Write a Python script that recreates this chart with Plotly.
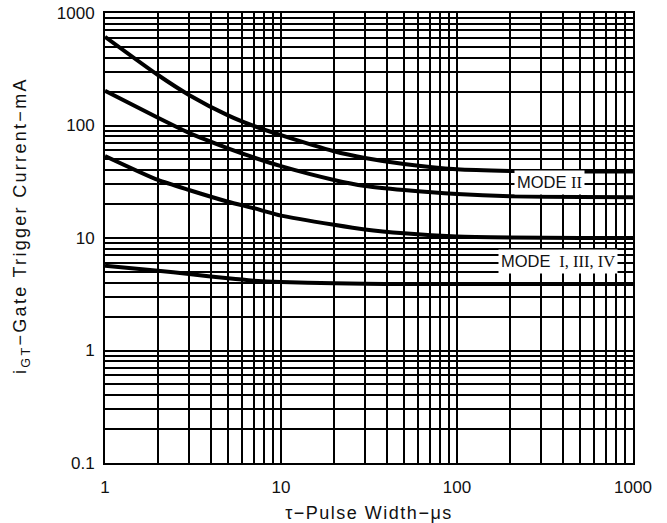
import plotly.graph_objects as go

pulse_width_us = [1, 2, 3, 5, 7, 10, 20, 30, 50, 100, 200, 500, 1000]
curve_a = [615, 281, 187, 123, 99, 82, 59, 51.5, 45.5, 40.8, 39.5, 39, 39]
curve_b = [204, 117, 86, 62.7, 52, 43.5, 32.8, 29, 26.7, 24.6, 23.5, 23.1, 23]
curve_c = [53.6, 32.8, 26.7, 21, 18.4, 15.8, 13.1, 11.9, 11, 10.3, 10.1, 10, 10]
curve_d = [5.68, 5.12, 4.79, 4.38, 4.18, 4.06, 3.96, 3.92, 3.9, 3.9, 3.9, 3.9, 3.9]

x_ticks = [1, 10, 100, 1000]
x_tick_text = ["1", "10", "100", "1000"]
y_ticks = [0.1, 1, 10, 100, 1000]
y_tick_text = ["0.1", "1", "10", "100", "1000"]

label_mode2 = 'MODE <span style="font-family:Liberation Serif">II</span>'
label_mode1 = 'MODE <span style="font-family:Liberation Serif"> I, III, IV</span>'
x_title = '<span style="letter-spacing:1.5px">τ−Pulse Width−μs</span>'
y_title = '<span style="letter-spacing:2.3px">i<sub>GT</sub>−Gate Trigger Current−mA</span>'

fig = go.Figure()
for ys in [curve_a, curve_b, curve_c, curve_d]:
    fig.add_trace(go.Scatter(x=pulse_width_us, y=ys, mode="lines",
                             line=dict(color="black", width=4, shape="spline", smoothing=0.6),
                             showlegend=False, hoverinfo="skip"))

fig.add_annotation(x=2.523, y=1.489, xref="x", yref="y", text=label_mode2, showarrow=False,
                   bgcolor="white", font=dict(size=16.5, color="#111"), borderpad=2)
fig.add_annotation(x=2.574, y=0.787, xref="x", yref="y", text=label_mode1, showarrow=False,
                   bgcolor="white", font=dict(size=16.5, color="#111"), borderpad=2)
fig.add_annotation(x=-0.157, y=0.527, xref="paper", yref="paper", text=y_title, showarrow=False,
                   textangle=-90, xanchor="center", yanchor="middle",
                   font=dict(size=18, color="#111"))

fig.update_xaxes(type="log", range=[0, 3], tickvals=x_ticks, ticktext=x_tick_text,
                 showgrid=True, gridcolor="black", gridwidth=1.6,
                 minor=dict(dtick="D1", showgrid=True, gridcolor="black", gridwidth=1.6, ticks=""),
                 showline=True, linecolor="black", linewidth=2, mirror=True, ticks="",
                 zeroline=False, ticklabelstandoff=8, tickfont=dict(size=17),
                 title=dict(text=x_title, standoff=14, font=dict(size=18)))
fig.update_yaxes(type="log", range=[-1, 3], tickvals=y_ticks, ticktext=y_tick_text,
                 showgrid=True, gridcolor="black", gridwidth=1.6,
                 minor=dict(dtick="D1", showgrid=True, gridcolor="black", gridwidth=1.6, ticks=""),
                 showline=True, linecolor="black", linewidth=2, mirror=True, ticks="",
                 zeroline=False, ticklabelstandoff=5, tickfont=dict(size=17))

fig.update_layout(width=667, height=523,
                  margin=dict(l=105, r=34, t=13, b=60, autoexpand=False),
                  plot_bgcolor="white", paper_bgcolor="white",
                  font=dict(family="Liberation Sans, Arial, sans-serif", size=17, color="#111"))

fig.write_html("out.html")
